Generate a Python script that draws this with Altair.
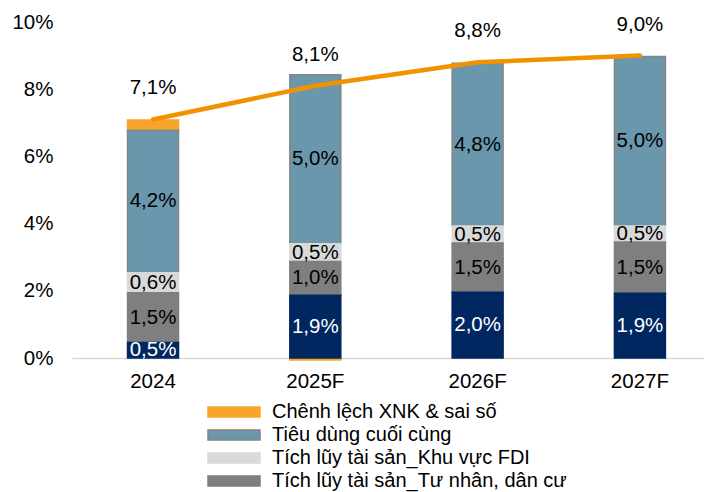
import altair as alt
import pandas as pd

years = ["2024", "2025F", "2026F", "2027F"]
categories = [
    "Chênh lệch XNK & sai số",
    "Tiêu dùng cuối cùng",
    "Tích lũy tài sản_Khu vực FDI",
    "Tích lũy tài sản_Tư nhân, dân cư",
    "Tích lũy tài sản_Khu vực nhà nước",
]
net_exports = [0.30, -0.06, 0.0, 0.0]
consumption = [4.24, 5.03, 4.84, 5.04]
fdi = [0.60, 0.53, 0.51, 0.48]
private = [1.48, 1.00, 1.46, 1.52]
state = [0.46, 1.87, 1.96, 1.93]
gdp_growth = [7.1, 8.1, 8.8, 9.0]

fills = ["#F9A52B", "#6B97AD", "#D9D9D9", "#7F7F7F", "#002760"]
strokes = ["#F9A52B", "#858585", "#D9D9D9", "#7F7F7F", "#002760"]
label_colors = ["black", "black", "black", "black", "white"]
show_label = [False, True, True, True, True]
stack_order = [4, 3, 2, 1, 0]
series = [net_exports, consumption, fdi, private, state]

rows = []
for ci, cat in enumerate(categories):
    for yi, yr in enumerate(years):
        v = series[ci][yi]
        if v == 0:
            continue
        rows.append({
            "year": yr, "cat": cat, "value": v, "ord": stack_order[ci],
            "show": show_label[ci], "lcolor": label_colors[ci],
        })
df = pd.DataFrame(rows)
gdf = pd.DataFrame({"year": years, "growth": gdp_growth})

FONT = "Liberation Sans"
FS = 20.5

x_enc = alt.X(
    "year:N", sort=years,
    scale=alt.Scale(paddingInner=0.686, paddingOuter=0.29, align=0.59),
    axis=alt.Axis(title=None, labelAngle=0, ticks=False, domainColor="#D9D9D9",
                  domainWidth=1.5, labelFontSize=FS, labelFont=FONT,
                  labelColor="black", labelPadding=13),
)
y_enc = alt.Y(
    "value:Q", stack="zero",
    scale=alt.Scale(domain=[0, 10], nice=False),
    axis=alt.Axis(title=None, values=[0, 2, 4, 6, 8, 10], labelExpr="datum.value + '%'",
                  ticks=False, domain=False, grid=False, labelFontSize=FS,
                  labelFont=FONT, labelColor="black", labelPadding=19),
)

legend = alt.Legend(
    title=None, orient="none", legendX=152, legendY=380, direction="vertical",
    symbolType="M-5.2,-1H5.2V1H-5.2Z", symbolSize=100, symbolStrokeWidth=1.5,
    labelOffset=28, labelFontSize=20, labelFont=FONT, labelColor="black",
    rowPadding=3, padding=0, labelLimit=0,
)

bars = alt.Chart(df).mark_bar(strokeWidth=1.5).encode(
    x=x_enc,
    y=y_enc,
    color=alt.Color("cat:N", scale=alt.Scale(domain=categories, range=fills), legend=legend),
    stroke=alt.Stroke("cat:N", scale=alt.Scale(domain=categories, range=strokes), legend=legend),
    order=alt.Order("ord:Q"),
)

labels = (
    alt.Chart(df)
    .transform_stack(stack="value", groupby=["year"], sort=[alt.SortField("ord")], as_=["v0", "v1"])
    .transform_filter("datum.show")
    .transform_calculate(mid="(datum.v0 + datum.v1) / 2",
                         lab="replace(format(datum.value, '.1f'), '.', ',') + '%'")
    .mark_text(fontSize=FS, font=FONT)
    .encode(
        x=alt.X("year:N", sort=years),
        y=alt.Y("mid:Q"),
        text="lab:N",
        color=alt.Color("lcolor:N", scale=None),
    )
)

line = alt.Chart(gdf).mark_line(color="#F39200", strokeWidth=4.5, strokeCap="round").encode(
    x=alt.X("year:N", sort=years),
    y=alt.Y("growth:Q"),
)

line_text = (
    alt.Chart(gdf)
    .transform_calculate(lab="replace(format(datum.growth, '.1f'), '.', ',') + '%'")
    .mark_text(fontSize=FS, font=FONT, dy=-31, color="black")
    .encode(x=alt.X("year:N", sort=years), y=alt.Y("growth:Q"), text="lab:N")
)

chart = (
    alt.layer(bars, labels, line, line_text)
    .properties(
        width=632, height=336,
        autosize=alt.AutoSizeParams(type="none"),
        padding={"left": 64, "top": 14, "right": 0, "bottom": 134},
    )
    .configure_view(stroke=None)
)

chart.save("out.html", embed_options={"renderer": "svg", "actions": False})
